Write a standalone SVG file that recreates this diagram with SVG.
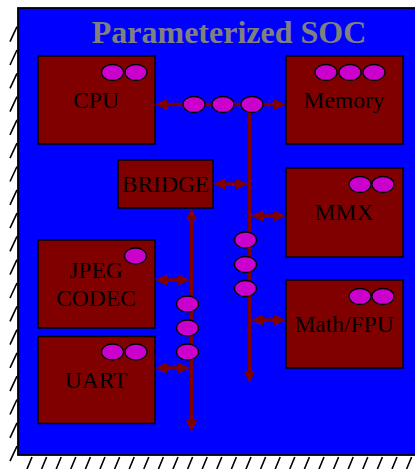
<svg xmlns="http://www.w3.org/2000/svg" width="415" height="469" viewBox="0 0 415 469">
<style>
.box{fill:#800000;stroke:#000;stroke-width:1.5}
.dot{fill:#CC00CC;stroke:#000;stroke-width:1.3}
.lbl{font-family:"Liberation Serif","Times New Roman",serif;font-size:23.5px;fill:#000;text-anchor:middle}
.bus{stroke:#800000;stroke-width:3.5;fill:none}
.hatch{stroke:#000;stroke-width:1.6}
</style>
<defs>
<marker id="ah" markerUnits="userSpaceOnUse" markerWidth="12" markerHeight="11" refX="7" refY="5.5" orient="auto-start-reverse">
<path d="M0,0 L12,5.5 L0,11 z" fill="#800000"/>
</marker>
</defs>
<g id="hatching">
<path class="hatch" d="M10,41.7 l7,-15 M10,65 l7,-15 M10,88.3 l7,-15 M10,111.6 l7,-15 M10,134.9 l7,-15 M10,158.2 l7,-15 M10,181.5 l7,-15 M10,204.8 l7,-15 M10,228.1 l7,-15 M10,251.4 l7,-15 M10,274.7 l7,-15 M10,298 l7,-15 M10,321.3 l7,-15 M10,344.6 l7,-15 M10,367.9 l7,-15 M10,391.2 l7,-15 M10,414.5 l7,-15 M10,437.8 l7,-15 M10,461.1 l7,-15"/>
<path class="hatch" d="M27,469 l5,-12 M41.6,469 l5,-12 M56.2,469 l5,-12 M70.8,469 l5,-12 M85.4,469 l5,-12 M100,469 l5,-12 M114.6,469 l5,-12 M129.2,469 l5,-12 M143.8,469 l5,-12 M158.4,469 l5,-12 M173,469 l5,-12 M187.6,469 l5,-12 M202.2,469 l5,-12 M216.8,469 l5,-12 M231.4,469 l5,-12 M246,469 l5,-12 M260.6,469 l5,-12 M275.2,469 l5,-12 M289.8,469 l5,-12 M304.4,469 l5,-12 M319,469 l5,-12 M333.6,469 l5,-12 M348.2,469 l5,-12 M362.8,469 l5,-12 M377.4,469 l5,-12 M392,469 l5,-12 M406.6,469 l5,-12"/>
</g>
<g id="soc">
<rect x="18" y="8" width="400" height="447" fill="#0000FF" stroke="#000" stroke-width="1.8"/>
<text x="229" y="42.5" font-family="'Liberation Serif','Times New Roman',serif" font-size="32" font-weight="bold" fill="#808080" text-anchor="middle">Parameterized SOC</text>
</g>
<g id="connectors">
<line class="bus" x1="160" y1="104.5" x2="281" y2="104.5" marker-start="url(#ah)" marker-end="url(#ah)"/>
<line class="bus" x1="249.5" y1="104.5" x2="249.5" y2="378" marker-end="url(#ah)"/>
<line class="bus" x1="218" y1="184" x2="243" y2="184" stroke-width="3" marker-start="url(#ah)" marker-end="url(#ah)"/>
<line class="bus" x1="256" y1="216" x2="281" y2="216" stroke-width="3" marker-start="url(#ah)" marker-end="url(#ah)"/>
<line class="bus" x1="256" y1="320" x2="281" y2="320" stroke-width="3" marker-start="url(#ah)" marker-end="url(#ah)"/>
<line class="bus" x1="191.5" y1="213" x2="191.5" y2="427" stroke-width="4" marker-start="url(#ah)" marker-end="url(#ah)"/>
<line class="bus" x1="160" y1="280" x2="185" y2="280" stroke-width="3" marker-start="url(#ah)" marker-end="url(#ah)"/>
<line class="bus" x1="160" y1="368" x2="185" y2="368" stroke-width="3" marker-start="url(#ah)" marker-end="url(#ah)"/>
<ellipse class="dot" cx="194" cy="104.5" rx="11" ry="8"/>
<ellipse class="dot" cx="223" cy="104.5" rx="11" ry="8"/>
<ellipse class="dot" cx="252" cy="104.5" rx="11" ry="8"/>
<ellipse class="dot" cx="245.5" cy="240" rx="11" ry="8"/>
<ellipse class="dot" cx="245.5" cy="264.5" rx="11" ry="8"/>
<ellipse class="dot" cx="245.5" cy="288.5" rx="11" ry="8"/>
<ellipse class="dot" cx="187.5" cy="304" rx="11" ry="8"/>
<ellipse class="dot" cx="187.5" cy="328" rx="11" ry="8"/>
<ellipse class="dot" cx="187.5" cy="352" rx="11" ry="8"/>
</g>
<g id="cpu">
<rect class="box" x="38" y="56" width="117" height="88"/>
<ellipse class="dot" cx="112.5" cy="72.5" rx="11" ry="8"/>
<ellipse class="dot" cx="136" cy="72.5" rx="11" ry="8"/>
<text class="lbl" x="96" y="107.5">CPU</text>
</g>
<g id="memory">
<rect class="box" x="286" y="56" width="117" height="88"/>
<ellipse class="dot" cx="326" cy="72.5" rx="11" ry="8"/>
<ellipse class="dot" cx="350" cy="72.5" rx="11" ry="8"/>
<ellipse class="dot" cx="374" cy="72.5" rx="11" ry="8"/>
<text class="lbl" x="344" y="107.5">Memory</text>
</g>
<g id="bridge">
<rect class="box" x="118" y="160" width="95" height="48"/>
<text class="lbl" x="165.5" y="192">BRIDGE</text>
</g>
<g id="mmx">
<rect class="box" x="286" y="168" width="117" height="89"/>
<ellipse class="dot" cx="360" cy="184.5" rx="11" ry="8"/>
<ellipse class="dot" cx="383" cy="184.5" rx="11" ry="8"/>
<text class="lbl" x="344" y="220">MMX</text>
</g>
<g id="jpeg">
<rect class="box" x="38" y="240" width="117" height="88"/>
<ellipse class="dot" cx="135.5" cy="256" rx="11" ry="8"/>
<text class="lbl" x="96" y="278">JPEG</text>
<text class="lbl" x="96" y="306">CODEC</text>
</g>
<g id="math">
<rect class="box" x="286" y="280" width="117" height="88"/>
<ellipse class="dot" cx="360" cy="296.5" rx="11" ry="8"/>
<ellipse class="dot" cx="383" cy="296.5" rx="11" ry="8"/>
<text class="lbl" x="344" y="332">Math/FPU</text>
</g>
<g id="uart">
<rect class="box" x="38" y="336.5" width="117" height="87"/>
<ellipse class="dot" cx="112.5" cy="352" rx="11" ry="8"/>
<ellipse class="dot" cx="136" cy="352" rx="11" ry="8"/>
<text class="lbl" x="96" y="388">UART</text>
</g>
</svg>
